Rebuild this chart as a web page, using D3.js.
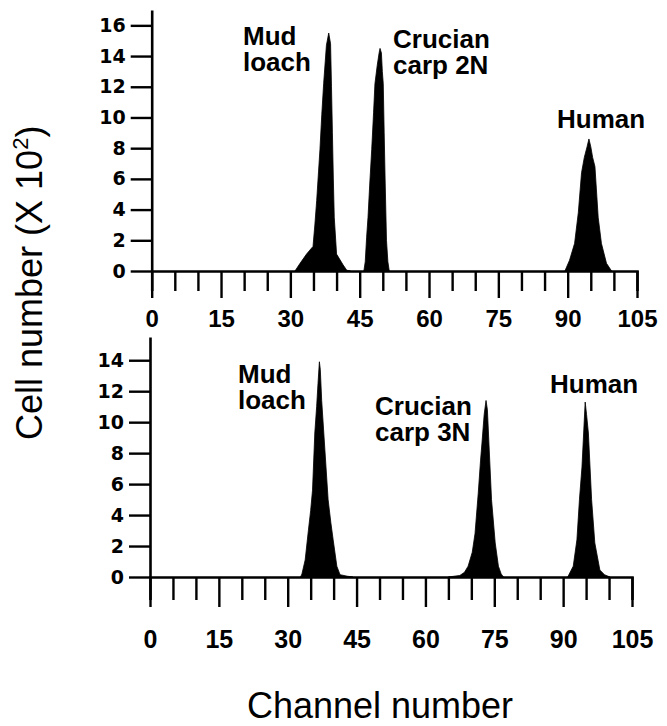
<!DOCTYPE html>
<html>
<head>
<meta charset="utf-8">
<script src="https://cdn.jsdelivr.net/npm/d3@7/dist/d3.min.js"></script>
<style>
  html, body { margin: 0; padding: 0; background: #fff; }
  svg { display: block; }
</style>
</head>
<body>
<svg id="chart" width="667" height="726"></svg>
<script>
// ---------------- DATA ----------------
// Channel number vs cell number (x 10^2)
const xTickValues = [0, 5, 10, 15, 20, 25, 30, 35, 40, 45, 50, 55, 60, 65, 70, 75, 80, 85, 90, 95, 100, 105];
const xLabelValues = [0, 15, 30, 45, 60, 75, 90, 105];
const topYTicks = [0, 2, 4, 6, 8, 10, 12, 14, 16];
const bottomYTicks = [0, 2, 4, 6, 8, 10, 12, 14];

// Top panel (Mud loach, Crucian carp 2N, Human)
const topMudLoach = [[31.0,0],[32.1,0.5],[33.5,1.1],[34.9,1.6],[35.3,3.0],[35.7,4.6],[36.1,6.5],[36.4,7.9],[36.8,10.2],[37.2,12.2],[37.8,14.7],[38.3,15.5],[38.7,14.8],[38.9,12.0],[39.1,9.0],[39.3,6.0],[39.5,3.5],[40.0,1.1],[41.4,0.4],[42.2,0.05],[43.0,0]];
const topCrucian2N = [[45.9,0],[46.2,0.6],[46.5,2.2],[46.8,3.5],[47.2,5.8],[47.6,7.9],[48.0,10.3],[48.3,12.2],[48.8,13.4],[49.2,14.2],[49.4,14.5],[49.7,14.2],[49.9,13.0],[50.1,12.2],[50.3,9.0],[50.5,6.0],[50.8,2.0],[51.1,0.6],[51.4,0]];
const topHuman = [[89.4,0],[90.4,0.7],[91.5,1.8],[92.3,3.8],[93.0,6.4],[93.6,7.4],[94.2,8.1],[94.6,8.6],[95.0,8.1],[95.4,7.4],[95.9,6.8],[96.6,3.5],[97.3,1.8],[98.4,0.5],[99.5,0]];

// Bottom panel (Mud loach, Crucian carp 3N, Human)
const bottomMudLoach = [[32.8,0],[33.1,0.2],[33.8,1.1],[34.5,3.0],[35.0,4.3],[35.4,5.6],[35.9,9.3],[36.3,11.0],[36.6,12.5],[36.9,13.9],[37.1,13.4],[37.4,11.4],[38.1,8.2],[38.8,5.0],[39.4,3.5],[39.9,2.4],[40.7,0.7],[41.4,0.15],[43.0,0.05],[44.2,0]];
const bottomCrucian3N = [[65.0,0],[67.5,0.1],[68.5,0.3],[69.3,0.7],[70.2,1.6],[70.8,2.8],[71.5,5.4],[72.0,7.5],[72.3,8.6],[72.8,10.5],[73.2,11.4],[73.5,10.8],[73.9,8.2],[74.4,5.0],[75.2,2.2],[75.9,0.7],[76.5,0.2],[77.0,0]];
const bottomHuman = [[91.0,0],[92.2,0.7],[93.0,2.4],[93.55,5.0],[94.1,7.1],[94.5,9.5],[94.8,11.3],[95.1,10.5],[95.5,9.3],[96.2,5.0],[96.9,2.2],[98.0,0.45],[99.0,0.15],[100.2,0]];

const topLabels = [["Mud", "loach"], ["Crucian", "carp 2N"], ["Human"]];
const bottomLabels = [["Mud", "loach"], ["Crucian", "carp 3N"], ["Human"]];

// ---------------- LAYOUT ----------------
const svg = d3.select("#chart");
const tickFont = "'DejaVu Sans', sans-serif";
const labelFont = "'Liberation Sans', Arial, sans-serif";

const panels = [
  {
    series: [topMudLoach, topCrucian2N, topHuman],
    yTicks: topYTicks, yMax: 17,
    x0: 151.7, x1: 637, yBase: 271, yTop: 10,
    shortTick: 20, longTick: 27, labelBaseline: 56, labelSize: 24,
    labels: topLabels,
    labelPos: [[243, 45], [393, 48], [557, 128]]
  },
  {
    series: [bottomMudLoach, bottomCrucian3N, bottomHuman],
    yTicks: bottomYTicks, yMax: 15.5,
    x0: 150, x1: 632, yBase: 577, yTop: 337,
    shortTick: 23, longTick: 30, labelBaseline: 71, labelSize: 25,
    labels: bottomLabels,
    labelPos: [[238, 383], [375, 415], [550, 393]]
  }
];

panels.forEach(p => {
  const x = d3.scaleLinear().domain([0, 105]).range([p.x0, p.x1]);
  const y = d3.scaleLinear().domain([0, p.yMax]).range([p.yBase, p.yTop]);
  const g = svg.append("g");

  // filled histogram peaks
  const area = d3.area()
    .x(d => x(d[0]))
    .y0(y(0))
    .y1(d => y(d[1]))
    .curve(d3.curveLinear);
  p.series.forEach(s => {
    g.append("path").datum(s).attr("d", area)
      .attr("fill", "#000").attr("stroke", "#000").attr("stroke-width", 0.8);
  });

  // y axis
  const yAxis = d3.axisLeft(y).tickValues(p.yTicks).tickSize(21).tickSizeOuter(0).tickPadding(5);
  const ya = g.append("g").attr("transform", `translate(${p.x0},0)`).call(yAxis);
  ya.select(".domain").attr("stroke-width", 2.6);
  ya.selectAll(".tick line").attr("stroke-width", 2.4);
  ya.selectAll(".tick text")
    .attr("font-family", tickFont).attr("font-weight", "bold").attr("font-size", 19).attr("fill", "#000");

  // x axis
  const xAxis = d3.axisBottom(x).tickValues(xTickValues).tickSizeOuter(0)
    .tickSize(p.shortTick).tickPadding(0)
    .tickFormat(d => xLabelValues.includes(d) ? String(d) : "");
  const xa = g.append("g").attr("transform", `translate(0,${p.yBase})`).call(xAxis);
  xa.select(".domain").attr("stroke-width", 2.6);
  xa.selectAll(".tick line").attr("stroke-width", 2.4)
    .attr("y2", d => xLabelValues.includes(d) ? p.longTick : p.shortTick);
  xa.selectAll(".tick text")
    .attr("y", p.labelBaseline).attr("dy", null)
    .attr("font-family", labelFont).attr("font-weight", "bold")
    .attr("font-size", p.labelSize).attr("fill", "#000");

  // peak labels
  p.labels.forEach((lines, i) => {
    const t = g.append("text")
      .attr("x", p.labelPos[i][0]).attr("y", p.labelPos[i][1])
      .attr("font-family", labelFont).attr("font-weight", "bold")
      .attr("font-size", 26).attr("fill", "#000");
    lines.forEach((ln, j) => {
      t.append("tspan").attr("x", p.labelPos[i][0]).attr("dy", j === 0 ? 0 : 26).text(ln);
    });
  });
});

// axis titles
svg.append("text")
  .attr("x", 380).attr("y", 718)
  .attr("text-anchor", "middle")
  .attr("font-family", labelFont).attr("font-size", 36).attr("fill", "#000")
  .text("Channel number");

const yt = svg.append("text")
  .attr("transform", "translate(42,440) rotate(-90)")
  .attr("font-family", labelFont).attr("font-size", 36).attr("fill", "#000");
yt.append("tspan").text("Cell number (X 10");
yt.append("tspan").attr("font-size", 22).attr("dy", -14).text("2");
yt.append("tspan").attr("dy", 14).text(")");
</script>
</body>
</html>
